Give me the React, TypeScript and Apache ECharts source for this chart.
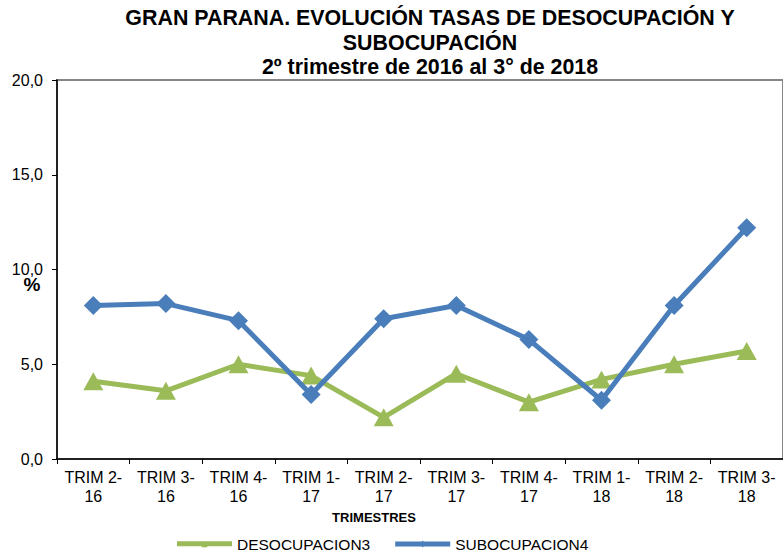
import React, { useEffect, useRef } from "react";
import * as echarts from "echarts";

const categories = [
  "TRIM 2-\n16", "TRIM 3-\n16", "TRIM 4-\n16", "TRIM 1-\n17", "TRIM 2-\n17",
  "TRIM 3-\n17", "TRIM 4-\n17", "TRIM 1-\n18", "TRIM 2-\n18", "TRIM 3-\n18",
];
const desocupacion = [4.1, 3.6, 5.0, 4.4, 2.2, 4.5, 3.0, 4.2, 5.0, 5.7];
const subocupacion = [8.1, 8.2, 7.3, 3.4, 7.4, 8.1, 6.3, 3.1, 8.1, 12.2];
const yTicks = { min: 0, max: 20, interval: 5 };
const titleLines = [
  "GRAN PARANA. EVOLUCIÓN TASAS DE DESOCUPACIÓN Y",
  "SUBOCUPACIÓN",
  "2º trimestre de 2016 al 3° de 2018",
];
const seriesNames = ["DESOCUPACION3", "SUBOCUPACION4"];
const axisNameX = "TRIMESTRES";
const axisNameY = "%";

const FONT = "'Liberation Sans', Arial, Helvetica, sans-serif";
const GREEN = "#9BBB59";
const BLUE = "#4A7EBB";

const ICON_TRI = "path://M0,4.5 L55,4.5 L55,9.5 L0,9.5 Z M24.5,10.5 L27.5,4 L30.5,10.5 Z";
const ICON_DIA = "path://M0,4.5 L55,4.5 L55,9.5 L0,9.5 Z M27.5,3.5 L31,7 L27.5,10.5 L24,7 Z";

export default function App() {
  const ref = useRef<HTMLDivElement>(null);
  useEffect(() => {
    if (!ref.current) return;
    const chart = echarts.init(ref.current, null, { renderer: "svg" });
    chart.setOption({
      animation: false,
      backgroundColor: "#ffffff",
      textStyle: { fontFamily: FONT },
      grid: {
        left: 57,
        top: 80,
        width: 732,
        bottom: 95,
        show: true,
        borderColor: "#868686",
        borderWidth: 2,
        backgroundColor: "transparent",
      },
      graphic: [
        ...titleLines.map((t, i) => ({
          type: "text",
          x: 430,
          y: 18 + i * 24.5,
          style: {
            text: t,
            fontFamily: FONT,
            fontSize: 21.4,
            fontWeight: "bold",
            fill: "#000",
            align: "center",
            verticalAlign: "middle",
          },
        })),
        {
          type: "text",
          x: 32,
          y: 284,
          style: {
            text: axisNameY,
            fontFamily: FONT,
            fontSize: 19,
            fontWeight: "bold",
            fill: "#000",
            align: "center",
            verticalAlign: "middle",
          },
        },
        {
          type: "text",
          x: 374,
          y: 517,
          style: {
            text: axisNameX,
            fontFamily: FONT,
            fontSize: 13,
            fontWeight: "bold",
            fill: "#000",
            align: "center",
            verticalAlign: "middle",
          },
        },
      ],
      legend: {
        left: 177,
        top: 536,
        padding: 0,
        itemWidth: 55,
        itemHeight: 14,
        itemGap: 25,
        textStyle: { fontFamily: FONT, fontSize: 15.5, color: "#000" },
        data: [
          { name: seriesNames[0], icon: ICON_TRI, itemStyle: { color: GREEN } },
          { name: seriesNames[1], icon: ICON_DIA, itemStyle: { color: BLUE } },
        ],
      },
      xAxis: {
        type: "category",
        data: categories,
        boundaryGap: true,
        axisLine: { lineStyle: { color: "#000", width: 1.5 } },
        axisTick: { show: true, alignWithLabel: false, length: 5, lineStyle: { color: "#000" } },
        axisLabel: {
          interval: 0,
          margin: 9,
          fontFamily: FONT,
          fontSize: 16,
          lineHeight: 19,
          color: "#000",
          align: "center",
        },
        splitLine: { show: false },
      },
      yAxis: {
        type: "value",
        min: yTicks.min,
        max: yTicks.max,
        interval: yTicks.interval,
        axisLine: { show: true, lineStyle: { color: "#000", width: 1.5 } },
        axisTick: { show: true, length: 5, lineStyle: { color: "#000" } },
        axisLabel: {
          margin: 14,
          fontFamily: FONT,
          fontSize: 16,
          color: "#000",
          formatter: (v: number) => v.toFixed(1).replace(".", ","),
        },
        splitLine: { show: false },
      },
      series: [
        {
          name: seriesNames[0],
          type: "line",
          data: desocupacion,
          symbol: "triangle",
          symbolSize: [20, 18],
          lineStyle: { color: GREEN, width: 5 },
          itemStyle: { color: GREEN },
          z: 2,
        },
        {
          name: seriesNames[1],
          type: "line",
          data: subocupacion,
          symbol: "diamond",
          symbolSize: 19,
          lineStyle: { color: BLUE, width: 5 },
          itemStyle: { color: BLUE },
          z: 3,
        },
      ],
    });
    return () => chart.dispose();
  }, []);
  return (
    <div
      ref={ref}
      style={{ position: "fixed", left: 0, top: 0, width: 783, height: 554 }}
    />
  );
}
